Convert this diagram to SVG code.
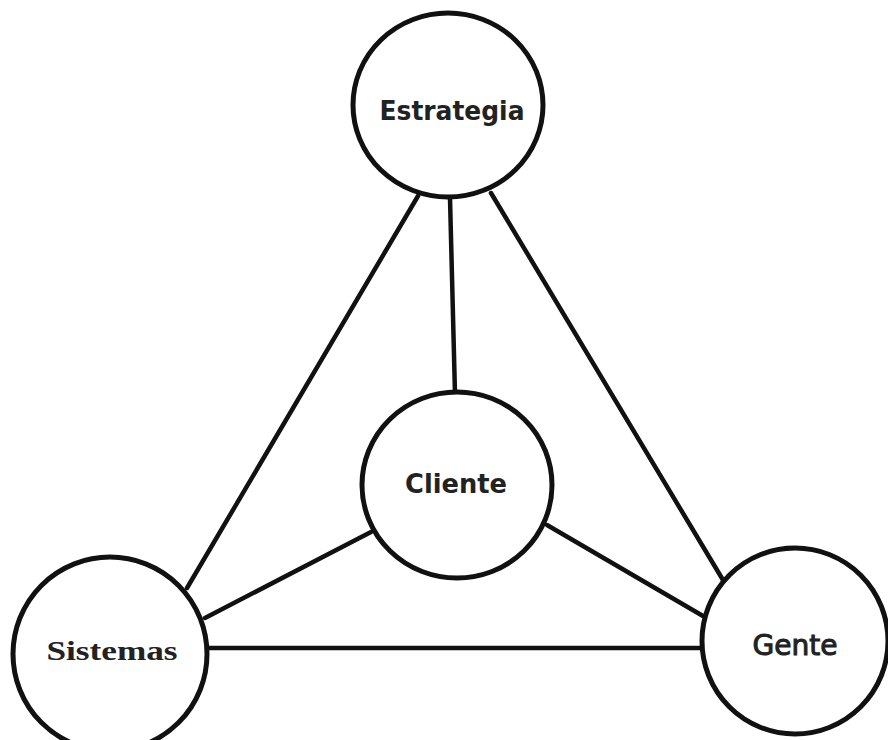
<svg xmlns="http://www.w3.org/2000/svg" width="888" height="740" viewBox="0 0 888 740">
  <style>
    .node { fill: #fff; stroke: #111; stroke-width: 5; }
    .link { stroke: #111; stroke-width: 4.5; stroke-linecap: round; fill: none; }
    .lbl { fill: #222; text-anchor: middle; }
    .sans { font-family: "DejaVu Sans", "Liberation Sans", sans-serif; }
    .serif { font-family: "Liberation Serif", "DejaVu Serif", serif; font-weight: bold; }
  </style>
  <rect width="888" height="740" fill="#fff"/>

  <!-- connectors between the four circles -->
  <g id="connectors">
    <line class="link" x1="450" y1="198" x2="455" y2="394"/>
    <line class="link" x1="418" y1="196" x2="187" y2="588"/>
    <line class="link" x1="491" y1="193" x2="723" y2="580"/>
    <line class="link" x1="371" y1="532" x2="205" y2="618"/>
    <line class="link" x1="547" y1="525" x2="703" y2="616"/>
    <line class="link" x1="209" y1="648" x2="700" y2="648"/>
  </g>

  <g id="estrategia">
    <ellipse class="node" cx="448" cy="105" rx="95" ry="92"/>
    <text class="lbl sans" x="452" y="120" font-size="27" font-weight="bold" textLength="145" lengthAdjust="spacingAndGlyphs">Estrategia</text>
  </g>

  <g id="cliente">
    <ellipse class="node" cx="457" cy="485" rx="95" ry="93"/>
    <text class="lbl sans" x="456" y="493" font-size="27" font-weight="bold" textLength="102" lengthAdjust="spacingAndGlyphs">Cliente</text>
  </g>

  <g id="sistemas">
    <ellipse class="node" cx="110" cy="654" rx="97" ry="97"/>
    <text class="lbl serif" x="112" y="660" font-size="28" textLength="131" lengthAdjust="spacingAndGlyphs">Sistemas</text>
  </g>

  <g id="gente">
    <ellipse class="node" cx="795" cy="641" rx="93" ry="93"/>
    <text class="lbl sans" x="795" y="655" font-size="28" stroke="#222" stroke-width="1" textLength="85" lengthAdjust="spacingAndGlyphs">Gente</text>
  </g>
</svg>
